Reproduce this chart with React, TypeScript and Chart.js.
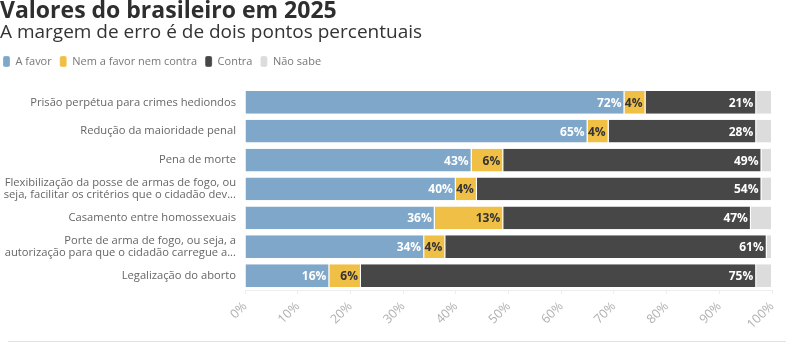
import React, { useEffect, useRef } from "react";
import { Chart, registerables } from "chart.js";

Chart.register(...registerables);

const categories: (string | string[])[] = [
  "Prisão perpétua para crimes hediondos",
  "Redução da maioridade penal",
  "Pena de morte",
  ["Flexibilização da posse de armas de fogo, ou", "seja, facilitar os critérios que o cidadão dev..."],
  "Casamento entre homossexuais",
  ["Porte de arma de fogo, ou seja, a", "autorização para que o cidadão carregue a..."],
  "Legalização do aborto",
];

const aFavor = [72, 65, 43, 40, 36, 34, 16];
const nemNem = [4, 4, 6, 4, 13, 4, 6];
const contra = [21, 28, 49, 54, 47, 61, 75];
const naoSabe = [3, 3, 2, 2, 4, 1, 3];

const seriesNames = ["A favor", "Nem a favor nem contra", "Contra", "Não sabe"];
const seriesColors = ["#7fa7c9", "#f0bf45", "#474747", "#dcdcdc"];
const labelColors = ["#ffffff", "#333333", "#ffffff", ""];

const xTicks = [0, 10, 20, 30, 40, 50, 60, 70, 80, 90, 100];

const FONT = "'Open Sans', sans-serif";

const valueLabels = {
  id: "valueLabels",
  afterDatasetsDraw(chart: any) {
    const ctx = chart.ctx;
    ctx.save();
    ctx.font = `bold 12px ${FONT}`;
    ctx.textAlign = "right";
    ctx.textBaseline = "middle";
    chart.data.datasets.forEach((ds: any, di: number) => {
      if (di > 2) return;
      const meta = chart.getDatasetMeta(di);
      meta.data.forEach((el: any, i: number) => {
        const v = ds.data[i];
        ctx.fillStyle = labelColors[di];
        ctx.fillText(`${v}%`, el.x - 3, el.y + 1);
      });
    });
    ctx.restore();
  },
};

const legendTweak = {
  id: "legendTweak",
  beforeUpdate(chart: any) {
    const lg = chart.legend;
    if (lg && !lg.__patched) {
      const orig = lg.fit.bind(lg);
      lg.fit = function () {
        orig();
        this.height += 11;
      };
      lg.__patched = true;
    }
  },
  afterLayout(chart: any) {
    if (chart.legend) chart.legend.left = -5;
  },
};

const bottomRule = {
  id: "bottomRule",
  afterDraw(chart: any) {
    const ctx = chart.ctx;
    ctx.save();
    ctx.strokeStyle = "#e3e3e3";
    ctx.lineWidth = 1;
    ctx.beginPath();
    ctx.moveTo(8, 341.5);
    ctx.lineTo(786, 341.5);
    ctx.stroke();
    ctx.restore();
  },
};

export default function App() {
  const ref = useRef<HTMLCanvasElement | null>(null);
  useEffect(() => {
    if (!ref.current) return;
    const data = [aFavor, nemNem, contra, naoSabe];
    const chart = new Chart(ref.current, {
      type: "bar",
      data: {
        labels: categories,
        datasets: data.map((d, i) => ({
          label: seriesNames[i],
          data: d,
          backgroundColor: seriesColors[i],
          borderColor: "#ffffff",
          borderWidth: { left: 0, right: 1, top: 0, bottom: 0 },
          borderSkipped: false,
          barPercentage: 0.79,
          categoryPercentage: 1,
        })),
      },
      options: {
        indexAxis: "y",
        animation: false,
        responsive: true,
        maintainAspectRatio: false,
        layout: { padding: { left: 0, right: 28, top: 0, bottom: 0 } },
        plugins: {
          title: {
            display: true,
            text: "Valores do brasileiro em 2025",
            align: "start",
            color: "#2e2e2e",
            font: { family: FONT, size: 23, weight: "bold", lineHeight: 1 },
            padding: { top: 0, bottom: -1 },
          },
          subtitle: {
            display: true,
            text: "A margem de erro é de dois pontos percentuais",
            align: "start",
            color: "#333333",
            font: { family: FONT, size: 19, weight: "normal", lineHeight: 1.1 },
            padding: { top: 0, bottom: 5 },
          },
          legend: {
            display: true,
            align: "start",
            labels: {
              boxWidth: 7,
              boxHeight: 11,
              padding: 8,
              color: "#777777",
              useBorderRadius: true,
              borderRadius: 2,
              font: { family: FONT, size: 11 },
            },
          },
          tooltip: { enabled: false },
        },
        scales: {
          x: {
            stacked: true,
            min: 0,
            max: 100,
            afterFit(scale: any) {
              scale.height = 54;
            },
            afterBuildTicks(scale: any) {
              scale.ticks = xTicks.map((v) => ({ value: v }));
            },
            ticks: {
              color: "#b0b0b0",
              font: { family: FONT, size: 12.5 },
              minRotation: 45,
              maxRotation: 45,
              padding: 5,
              callback: (v: any) => `${v}%`,
            },
            grid: { drawOnChartArea: false, color: "#eeeeee", tickLength: 4 },
            border: { color: "#eeeeee" },
          },
          y: {
            stacked: true,
            afterFit(scale: any) {
              scale.width = 245;
            },
            ticks: {
              color: "#666666",
              font: { family: FONT, size: 11.2, lineHeight: 1.1 },
              padding: 9,
              autoSkip: false,
            },
            grid: { display: false, drawTicks: false },
            border: { display: false },
          },
        },
      },
      plugins: [legendTweak, valueLabels, bottomRule],
    });
    return () => chart.destroy();
  }, []);
  return (
    <div style={{ position: "fixed", left: 0, top: 0, width: 800, height: 344 }}>
      <canvas ref={ref} />
    </div>
  );
}
